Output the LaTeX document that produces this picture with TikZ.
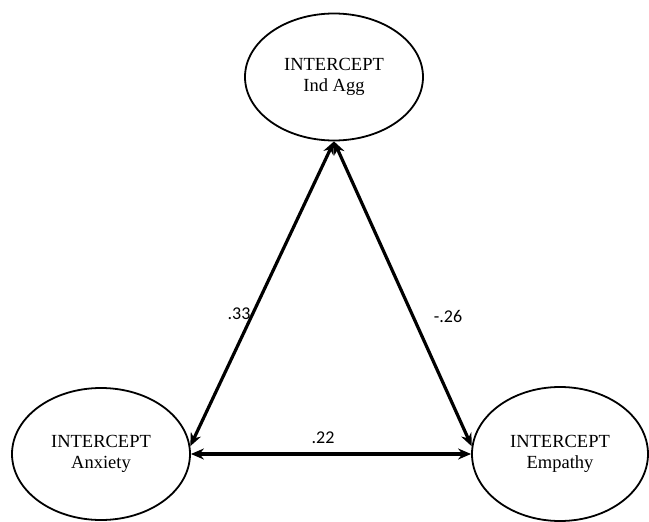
\documentclass[tikz,border=0pt]{standalone}
\usepackage{fontspec}
\setmainfont{Liberation Serif}
\newfontfamily\labelfont{Carlito}
\usetikzlibrary{shapes.geometric,arrows.meta}
\tikzset{
  latent/.style={draw, ellipse, line width=1.8pt, inner sep=0pt,
    font=\fontsize{18.5}{21}\selectfont, align=center},
  corr/.style={{Stealth[length=13pt,width=11pt]}-{Stealth[length=13pt,width=11pt]}, line width=3.2pt},
  coef/.style={font=\labelfont\fontsize{18}{20}\selectfont, inner sep=0pt}
}
\begin{document}
\begin{tikzpicture}[x=1pt,y=-1pt]
\useasboundingbox (0,0) rectangle (649,522);
\node[latent, minimum width=178pt, minimum height=127pt] (ind) at (334,77) {INTERCEPT\\Ind Agg};
\node[latent, minimum width=178pt, minimum height=132pt] (anx) at (101,454) {INTERCEPT\\Anxiety};
\node[latent, minimum width=176pt, minimum height=134pt] (emp) at (560,454) {INTERCEPT\\Empathy};
\draw[corr] (ind.south) -- (anx.5);
\draw[corr] (ind.south) -- (emp.175);
\draw[corr] (anx.east) -- (emp.west);
\node[coef] (c1) at (239,314) {.33};
\node[coef] (c2) at (448,316) {-.26};
\node[coef] (c3) at (323,438) {.22};
\end{tikzpicture}
\end{document}
